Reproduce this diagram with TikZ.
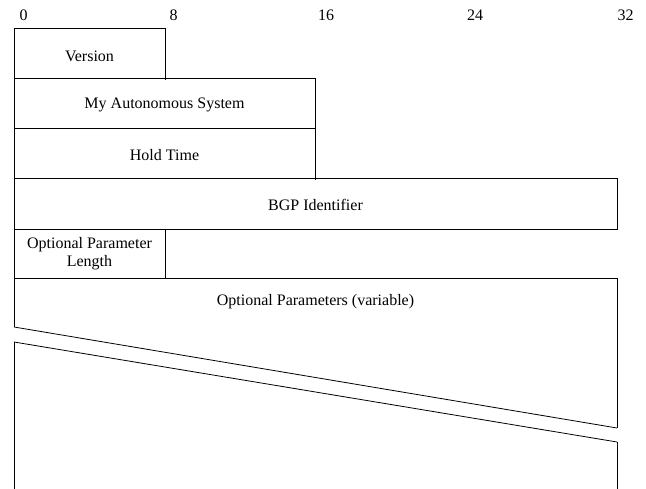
\documentclass[tikz,border=0pt]{standalone}
\usepackage{fontspec}
\setmainfont{Liberation Serif}
\begin{document}
\begin{tikzpicture}[x=1pt,y=-1pt,
  fld/.style={draw=black,line width=0.8pt},
  lbl/.style={font=\fontsize{16}{18}\selectfont,inner sep=0pt,align=center},
  bitlbl/.style={font=\fontsize{16}{18}\selectfont,inner sep=0pt,anchor=west},
  brk/.style={draw=black,line width=0.8pt}]
\useasboundingbox (0,0) rectangle (646,489);
% bit labels
\node[bitlbl] (b0)  at (19.5,15) {0};
\node[bitlbl] (b8)  at (169.5,15) {8};
\node[bitlbl] (b16) at (318,15) {16};
\node[bitlbl] (b24) at (467,15) {24};
\node[bitlbl] (b32) at (617.5,15) {32};
% fields
\draw[fld] (14,28) rectangle (165,78);
\draw[fld] (165,78) -- (165,80);
\draw[fld] (14,78) rectangle (315,128);
\draw[fld] (14,128) rectangle (315,178);
\draw[fld] (315,178) -- (315,180);
\draw[fld] (14,178) rectangle (617,229);
\draw[fld] (14,229) -- (14,278) -- (165,278) -- (165,229);
\draw[fld] (14,278) -- (617,278);
% variable-length field with break
\draw[fld] (14,278) -- (14,327);
\draw[fld] (617,278) -- (617,428);
\draw[fld] (14,342) -- (14,489);
\draw[fld] (617,442) -- (617,489);
\coordinate (u1) at (14,327);
\coordinate (u2) at (617,428);
\coordinate (l1) at (14,342);
\coordinate (l2) at (617,442);
\draw[brk] (u1) -- (u2);
\draw[brk] (l1) -- (l2);
% labels
\node[lbl] (ver) at (89.5,56) {Version};
\node[lbl] (myas) at (164.5,105) {My Autonomous System};
\node[lbl] (hold) at (164.5,155) {Hold Time};
\node[lbl] (bgpid) at (315.5,205) {BGP Identifier};
\node[lbl] (oplen) at (89.5,253.5) {Optional Parameter\\Length};
\node[lbl] (opt) at (315.5,302) {Optional Parameters (variable)};
\end{tikzpicture}
\end{document}
